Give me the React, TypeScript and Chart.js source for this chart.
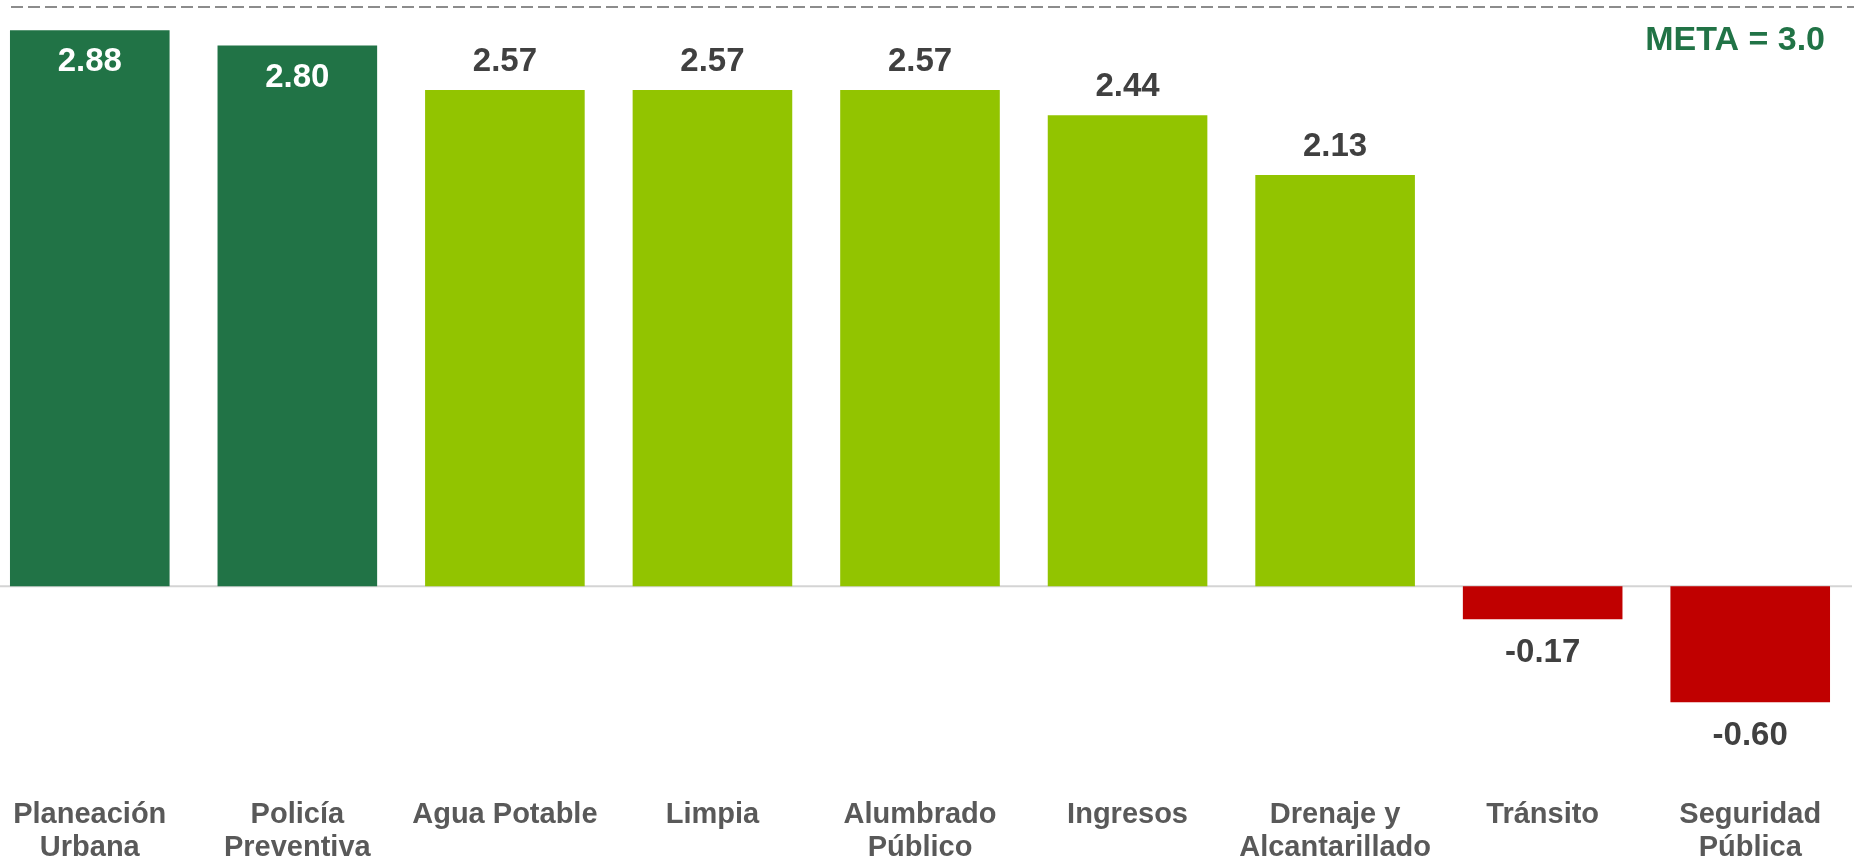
import React, { useEffect, useRef } from "react";
import { Chart, registerables } from "chart.js";

Chart.register(...registerables);

const categories: (string | string[])[] = [
  ["Planeación", "Urbana"],
  ["Policía", "Preventiva"],
  "Agua Potable",
  "Limpia",
  ["Alumbrado", "Público"],
  "Ingresos",
  ["Drenaje y", "Alcantarillado"],
  "Tránsito",
  ["Seguridad", "Pública"],
];
const values: number[] = [2.88, 2.8, 2.57, 2.57, 2.57, 2.44, 2.13, -0.17, -0.6];
const barColors: string[] = [
  "#217346", "#217346", "#92C400", "#92C400", "#92C400", "#92C400", "#92C400", "#C00000", "#C00000",
];
const insideLabel: boolean[] = [true, true, false, false, false, false, false, false, false];
const metaValue = 3.0;
const metaText = "META = 3.0";

const FONT = "'Liberation Sans', Arial, sans-serif";

const overlayPlugin = {
  id: "overlay",
  beforeDatasetsDraw(chart: any) {
    const { ctx, chartArea, scales } = chart;
    const y0 = scales.y.getPixelForValue(0);
    ctx.save();
    ctx.strokeStyle = "#d4d4d4";
    ctx.lineWidth = 2;
    ctx.beginPath();
    ctx.moveTo(chartArea.left, y0);
    ctx.lineTo(chartArea.right - 2, y0);
    ctx.stroke();
    ctx.restore();
  },
  afterDatasetsDraw(chart: any) {
    const { ctx, chartArea, scales } = chart;
    const meta = chart.getDatasetMeta(0);
    ctx.save();
    // META dashed line
    const ym = scales.y.getPixelForValue(metaValue);
    ctx.strokeStyle = "#8c8c8c";
    ctx.lineWidth = 2;
    ctx.setLineDash([12, 5]);
    ctx.beginPath();
    ctx.moveTo(chartArea.left + 25, ym);
    ctx.lineTo(chartArea.right, ym);
    ctx.stroke();
    ctx.setLineDash([]);
    // META label
    ctx.font = `bold 34px ${FONT}`;
    ctx.fillStyle = "#217346";
    ctx.textAlign = "right";
    ctx.textBaseline = "middle";
    ctx.fillText(metaText, chartArea.right - 29, ym + 34);
    // value labels
    ctx.font = `bold 33px ${FONT}`;
    ctx.textAlign = "center";
    meta.data.forEach((bar: any, i: number) => {
      const v = values[i];
      const txt = v.toFixed(2);
      let y: number;
      if (insideLabel[i]) {
        ctx.fillStyle = "#ffffff";
        y = bar.y + 32;
      } else if (v >= 0) {
        ctx.fillStyle = "#404040";
        y = bar.y - 28;
      } else {
        ctx.fillStyle = "#404040";
        y = bar.y + 34;
      }
      ctx.fillText(txt, bar.x, y);
    });
    ctx.restore();
  },
};

export default function App() {
  const ref = useRef<HTMLCanvasElement | null>(null);
  useEffect(() => {
    if (!ref.current) return;
    const chart = new Chart(ref.current, {
      type: "bar",
      data: {
        labels: categories,
        datasets: [
          {
            data: values,
            backgroundColor: barColors,
            borderWidth: 0,
            barPercentage: 0.769,
            categoryPercentage: 1,
          },
        ],
      },
      options: {
        responsive: false,
        animation: false,
        devicePixelRatio: 1,
        layout: { padding: { top: 7, bottom: 2, left: 0, right: 0 } },
        plugins: {
          legend: { display: false },
          tooltip: { enabled: false },
        },
        scales: {
          x: {
            grid: { display: false, drawTicks: false },
            border: { display: false },
            ticks: {
              color: "#595959",
              font: { family: FONT, size: 29, weight: "bold", lineHeight: 1.15 },
              padding: 14,
              maxRotation: 0,
              autoSkip: false,
            },
          },
          y: {
            display: false,
            min: -1.025,
            max: 3.0,
          },
        },
      },
      plugins: [overlayPlugin],
    });
    return () => chart.destroy();
  }, []);
  return (
    <div
      style={{
        position: "fixed",
        left: 0,
        top: 0,
        width: 1854,
        height: 865,
        overflow: "hidden",
        background: "#ffffff",
      }}
    >
      <canvas
        ref={ref}
        width={1868}
        height={881}
        style={{ position: "absolute", left: -14, top: 0, width: 1868, height: 881 }}
      />
    </div>
  );
}
